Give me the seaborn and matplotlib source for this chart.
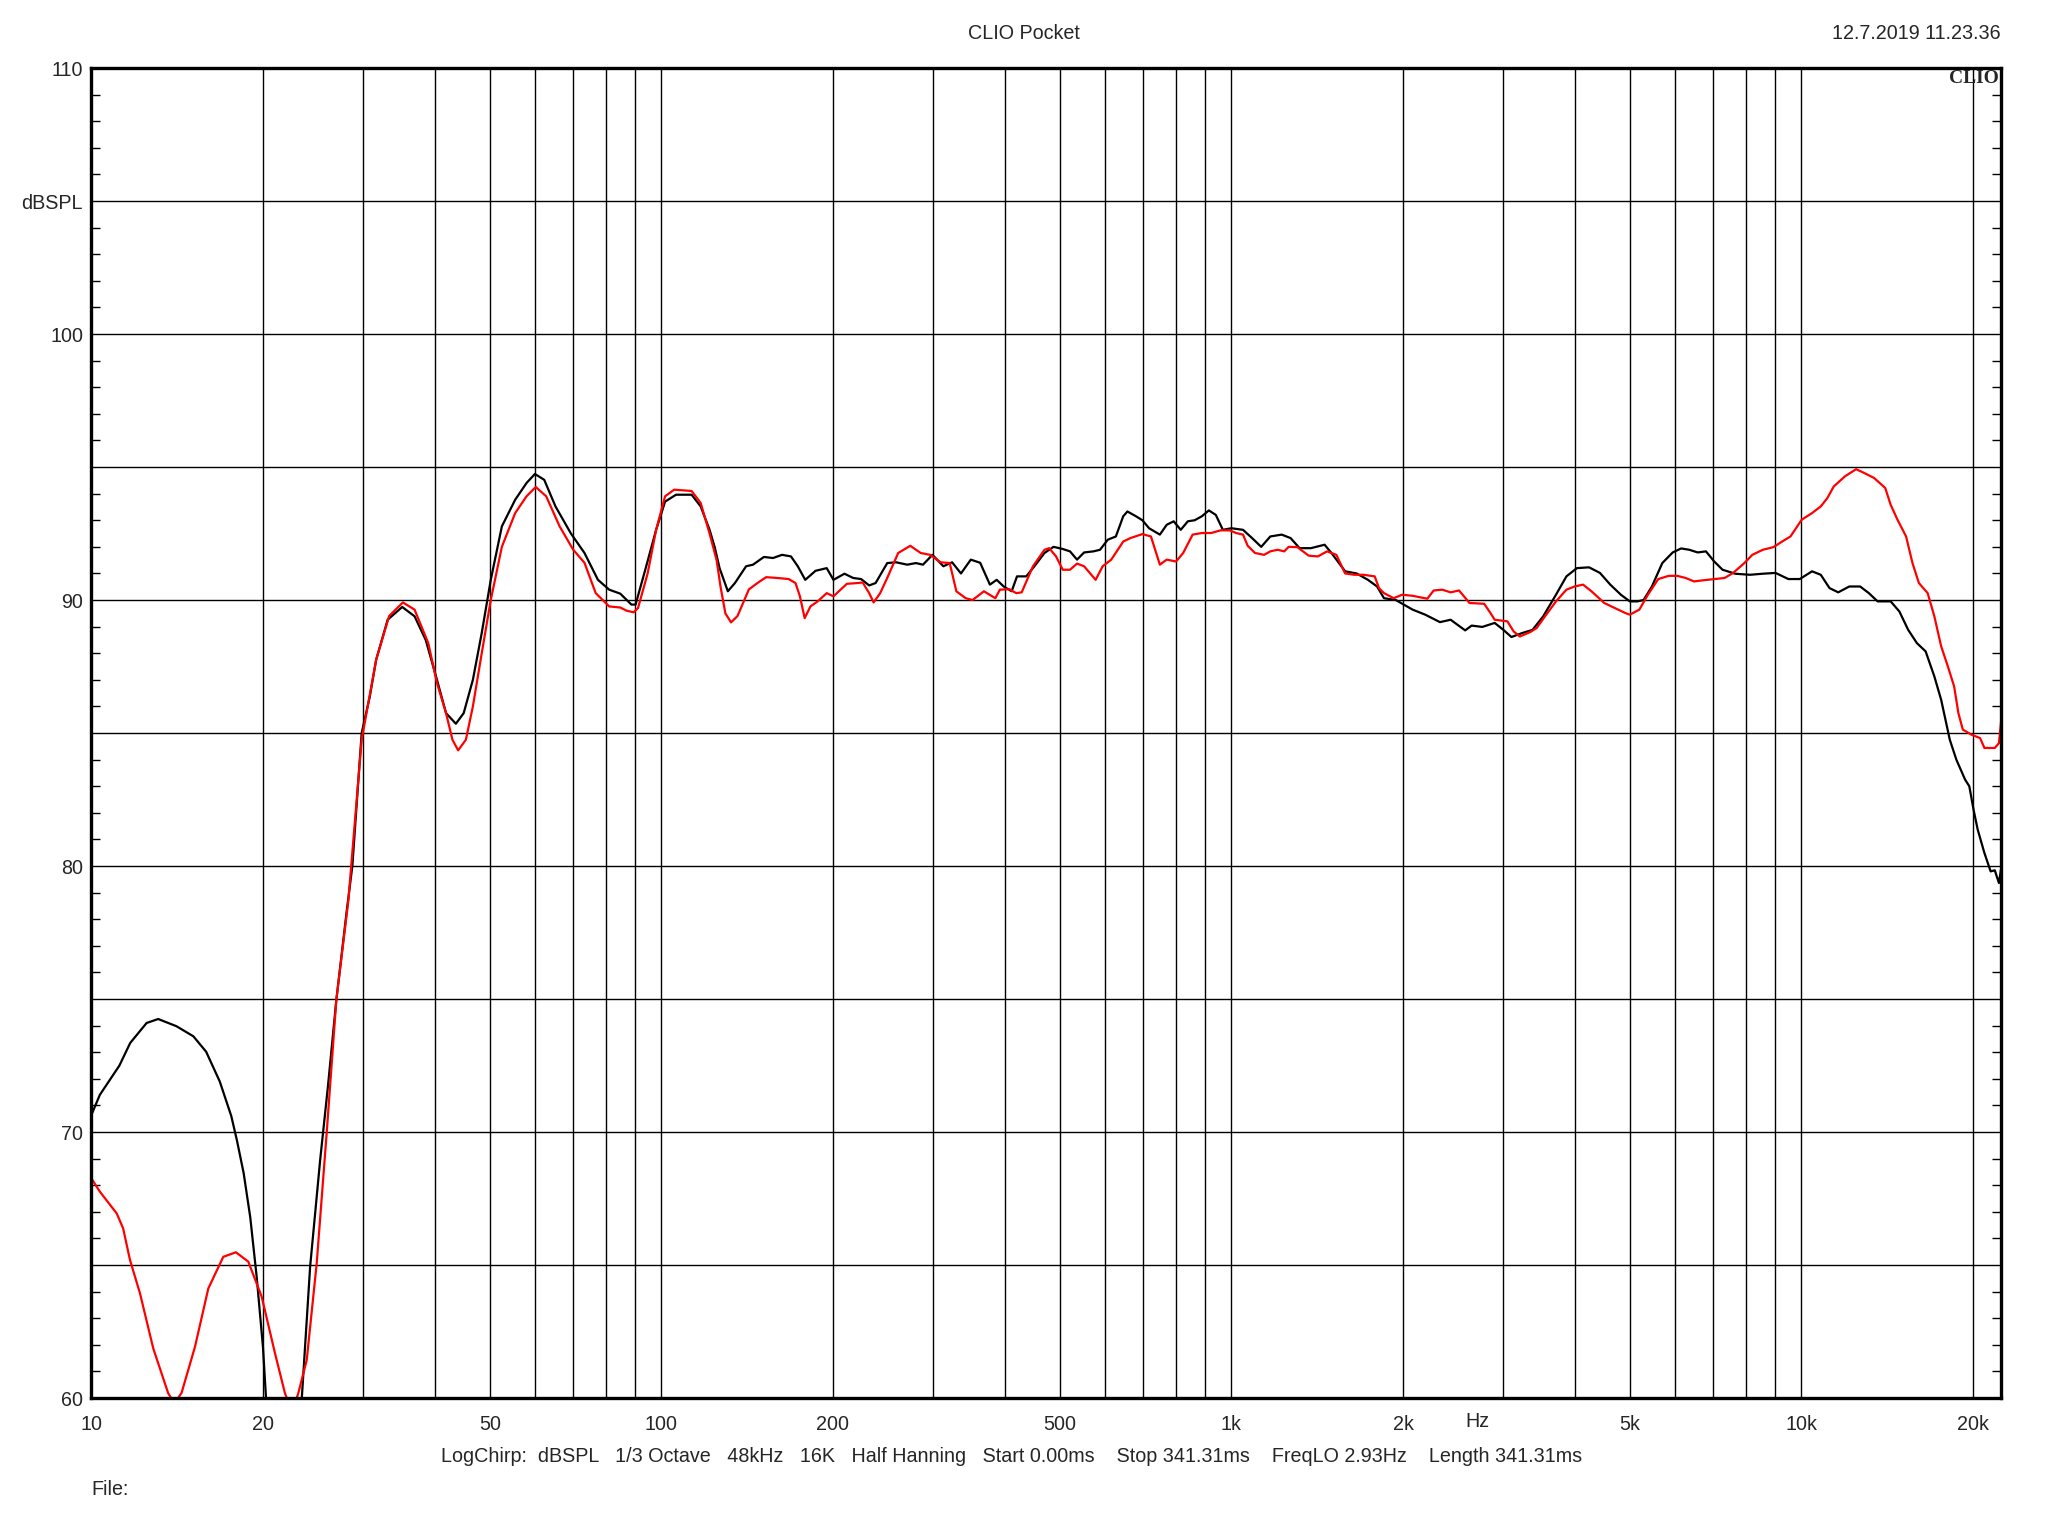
import matplotlib
matplotlib.use("Agg")
import matplotlib.pyplot as plt
import matplotlib.ticker as mticker
import numpy as np
import seaborn as sns

# values (Hz, dB SPL)
freq_black = [10, 10.35, 11.2, 11.7, 12.5, 13.1, 14.1, 15.1, 15.9, 16.8, 17.6, 18.0, 18.5, 19.0, 19.5,
              20.0, 20.25, 21.8, 23.4, 24.2, 25.2, 26.0, 26.9, 28.05, 28.7, 29.8, 30.8, 31.6, 33.1,
              35.1, 36.9, 38.6, 40.4, 41.9, 43.6, 45.0, 46.7, 48.4, 50.2, 52.5, 55.4, 58.0, 60.0,
              62.3, 65.2, 69.4, 73.3, 77.4, 81.0, 84.7, 88.6, 90.1, 93.7, 97.9, 101.5, 106.1, 113,
              117.2, 121.5, 124, 126.5, 130.8, 134.6, 137, 140.8, 144.8, 151.3, 157, 162.8, 168.8,
              173.5, 178.8, 186.4, 195, 200.4, 209.5, 217, 224, 231.5, 237.6, 249, 258, 270, 279.6,
              287.7, 298.9, 312.4, 323.6, 335.4, 349, 362.5, 377, 387.5, 398.6, 411.6, 420.6, 436.5,
              451.2, 470, 487.5, 506, 521, 536, 551.6, 572.6, 588.2, 607, 627, 646, 657, 680, 698,
              717, 749, 770, 792, 815, 838.5, 862, 887.5, 913, 939, 966, 1000, 1048, 1087, 1128,
              1170, 1225, 1270, 1317, 1378, 1457, 1498, 1583, 1658, 1736, 1801, 1852, 1943, 2079,
              2188, 2322, 2424, 2571, 2639, 2755, 2896, 3000, 3099, 3237, 3375, 3524, 3710, 3870,
              4037, 4241, 4431, 4620, 4822, 5000, 5153, 5285, 5466, 5700, 5945, 6150, 6359, 6575,
              6800, 7030, 7270, 7652, 8122, 8554, 9007, 9484, 9933, 10437, 10812, 11200, 11602,
              12131, 12675, 13130, 13601, 14339, 14853, 15390, 15943, 16515, 17105, 17583, 18207,
              18696, 19368, 19700, 20040, 20380, 20940, 21474, 21837, 22206, 22400]
spl_black = [70.64, 71.4, 72.5, 73.35, 74.1, 74.25, 73.98, 73.6, 73.02, 71.9, 70.6, 69.7, 68.46, 66.8,
             64.56, 61.93, 60.0, 50.0, 60.0, 64.94, 68.95, 71.7, 74.96, 78.3, 80.0, 85.0, 86.38,
             87.76, 89.26, 89.74, 89.39, 88.5, 87.0, 85.75, 85.35, 85.75, 87.0, 88.76, 90.76, 92.77,
             93.77, 94.4, 94.74, 94.52, 93.52, 92.5, 91.77, 90.76, 90.39, 90.24, 89.83, 89.83, 91.14,
             92.64, 93.7, 93.96, 93.96, 93.52, 92.64, 92.0, 91.2, 90.33, 90.64, 90.89, 91.27, 91.33,
             91.62, 91.58, 91.7, 91.64, 91.27, 90.76, 91.1, 91.2, 90.76, 90.99, 90.83, 90.79, 90.55,
             90.64, 91.39, 91.42, 91.33, 91.39, 91.33, 91.7, 91.27, 91.42, 91.0, 91.52, 91.4, 90.58,
             90.76, 90.51, 90.33, 90.89, 90.89, 91.27, 91.77, 92.0, 91.92, 91.83, 91.52, 91.79, 91.83,
             91.89, 92.27, 92.39, 93.15, 93.33, 93.15, 93.0, 92.7, 92.46, 92.83, 92.96, 92.64, 92.96,
             93.0, 93.15, 93.37, 93.2, 92.64, 92.7, 92.64, 92.33, 92.0, 92.39, 92.46, 92.33, 91.95,
             91.95, 92.08, 91.77, 91.08, 91.0, 90.76, 90.51, 90.07, 90.0, 89.64, 89.45, 89.17, 89.26,
             88.86, 89.04, 88.99, 89.14, 88.88, 88.61, 88.76, 88.88, 89.39, 90.2, 90.89, 91.2, 91.23,
             91.02, 90.58, 90.2, 89.95, 89.95, 90.0, 90.51, 91.39, 91.79, 91.94, 91.89, 91.79, 91.83,
             91.45, 91.14, 90.99, 90.95, 90.99, 91.02, 90.79, 90.79, 91.08, 90.95, 90.45, 90.29, 90.51,
             90.51, 90.26, 89.95, 89.95, 89.57, 88.88, 88.38, 88.07, 87.13, 86.25, 84.75, 84.0, 83.25,
             83.0, 82.12, 81.37, 80.49, 79.8, 79.84, 79.36, 79.9]

freq_red = [10, 10.35, 11.08, 11.37, 11.69, 12.17, 12.84, 13.64, 14.0, 14.4, 15.2, 16.04, 17.04, 17.93,
            18.85, 19.9, 21.0, 21.86, 22.5, 23.07, 23.87, 24.85, 25.87, 26.9, 28.24, 29.8, 31.6, 33.3,
            35.2, 36.9, 39.0, 40.4, 41.9, 43.0, 44.0, 45.4, 46.7, 48.4, 50.2, 52.5, 55.4, 58.0, 60.2,
            62.8, 66.3, 70, 73.3, 76.7, 81, 84.7, 86.9, 89.4, 91, 94.6, 97.9, 101.5, 105.3, 113,
            117.2, 121.5, 125, 127, 129.5, 132.5, 136, 139.8, 142.4, 147.4, 152.7, 159.8, 167.2,
            171.9, 175, 178.4, 182.6, 188, 195, 200.4, 211.5, 221, 225.5, 231.5, 235.7, 242, 249,
            260.3, 273.3, 285, 296, 309, 320.5, 329.2, 341.8, 351.5, 368, 385.3, 392.5, 407.6, 419.3,
            428.6, 448.6, 470, 478.9, 492.5, 506, 521, 536, 551.6, 577.8, 594.5, 615.5, 646, 665, 698,
            722.5, 749, 770, 799.5, 823, 855, 887.5, 921.5, 957, 993, 1019, 1048, 1068, 1100, 1141,
            1170, 1205, 1238, 1260, 1305, 1366, 1418, 1471.5, 1528, 1583, 1643, 1705.5, 1784, 1815,
            1852, 1926, 1993, 2079, 2206, 2264, 2344, 2424, 2508, 2616, 2776, 2848, 2896, 3049, 3127,
            3206, 3346, 3432, 3550, 3710, 3870, 4000, 4139, 4282, 4508, 4706, 4912, 5000, 5195, 5378,
            5608, 5850, 6054, 6264, 6479, 6702, 7030, 7332, 7588, 7940, 8200, 8554, 8930, 9250, 9566,
            10010, 10437, 10812, 11100, 11394, 11920, 12470, 12820, 13410, 14030, 14339, 14740,
            15260, 15660, 16070, 16650, 17105, 17583, 18070, 18530, 18850, 19190, 19870, 20580,
            20940, 21474, 21837, 22206, 22400]
spl_red = [68.26, 67.76, 66.94, 66.38, 65.19, 63.94, 61.87, 60.18, 59.8, 60.2, 61.93, 64.12, 65.31,
           65.48, 65.13, 63.81, 61.68, 60.18, 59.5, 60.18, 61.43, 65.06, 69.95, 74.96, 78.7, 84.75,
           87.76, 89.4, 89.91, 89.64, 88.38, 86.88, 85.75, 84.75, 84.35, 84.75, 86.0, 88.0, 90.0, 92.0,
           93.27, 93.9, 94.25, 93.9, 92.77, 91.9, 91.4, 90.26, 89.76, 89.72, 89.6, 89.54, 89.7, 91.0,
           92.64, 93.9, 94.15, 94.1, 93.65, 92.5, 91.5, 90.5, 89.5, 89.16, 89.4, 90.0, 90.4, 90.64,
           90.86, 90.83, 90.79, 90.64, 90.14, 89.32, 89.76, 89.95, 90.26, 90.14, 90.61, 90.64, 90.66,
           90.26, 89.91, 90.26, 90.83, 91.77, 92.04, 91.77, 91.7, 91.42, 91.39, 90.33, 90.07, 90.0,
           90.33, 90.07, 90.39, 90.41, 90.26, 90.29, 91.27, 91.89, 91.95, 91.64, 91.14, 91.14, 91.37,
           91.27, 90.76, 91.27, 91.52, 92.2, 92.33, 92.48, 92.39, 91.33, 91.52, 91.45, 91.77, 92.46,
           92.52, 92.52, 92.62, 92.62, 92.52, 92.46, 92.04, 91.77, 91.7, 91.83, 91.89, 91.83, 92.0,
           91.99, 91.67, 91.64, 91.83, 91.7, 91.0, 90.95, 90.95, 90.89, 90.45, 90.26, 90.07, 90.2,
           90.16, 90.05, 90.36, 90.39, 90.29, 90.36, 89.89, 89.86, 89.51, 89.26, 89.2, 88.82, 88.63,
           88.8, 88.95, 89.39, 89.95, 90.39, 90.51, 90.58, 90.33, 89.89, 89.7, 89.51, 89.45, 89.64,
           90.2, 90.79, 90.91, 90.91, 90.83, 90.7, 90.74, 90.79, 90.83, 91.02, 91.39, 91.7, 91.89,
           91.99, 92.2, 92.39, 93.02, 93.27, 93.52, 93.83, 94.27, 94.65, 94.92, 94.8, 94.59, 94.21,
           93.58, 93.02, 92.39, 91.39, 90.64, 90.26, 89.39, 88.26, 87.5, 86.75, 85.75, 85.13, 84.94,
           84.81, 84.44, 84.44, 84.44, 84.62, 85.44]

x_labels = {10: "10", 20: "20", 50: "50", 100: "100", 200: "200", 500: "500",
            1000: "1k", 2000: "2k", 5000: "5k", 10000: "10k", 20000: "20k"}
y_labels = {60: "60", 70: "70", 80: "80", 90: "90", 100: "100", 105: "dBSPL", 110: "110"}

sns.set_style("white")
plt.rcParams["font.family"] = ["Liberation Sans", "DejaVu Sans"]
plt.rcParams["font.size"] = 14

fig = plt.figure(figsize=(20.48, 15.36), dpi=100)
ax = fig.add_axes([0.0446, 0.0898, 0.9325, 0.8659])

sns.lineplot(x=freq_black, y=spl_black, ax=ax, color="black", lw=1.6,
             estimator=None, sort=False)
sns.lineplot(x=freq_red, y=spl_red, ax=ax, color="#ff0000", lw=1.6,
             estimator=None, sort=False)

ax.set_xscale("log")
ax.set_xlim(10, 22400)
ax.set_ylim(60, 110)

ax.xaxis.set_major_locator(mticker.LogLocator(base=10, subs=np.arange(1, 10), numticks=50))
ax.xaxis.set_minor_locator(mticker.NullLocator())
ax.xaxis.set_major_formatter(mticker.FuncFormatter(
    lambda v, p: x_labels.get(int(round(v)), "")))
ax.yaxis.set_major_locator(mticker.MultipleLocator(5))
ax.yaxis.set_minor_locator(mticker.MultipleLocator(1))
ax.yaxis.set_major_formatter(mticker.FuncFormatter(
    lambda v, p: y_labels.get(int(round(v)), "")))

ax.grid(True, which="major", color="black", lw=1.0)
ax.tick_params(axis="x", which="major", length=0, pad=12, labelsize=14.2)
ax.tick_params(axis="y", which="major", length=0, pad=6, labelsize=14.2)
ax.tick_params(axis="y", which="minor", direction="in", length=6.5, width=1.0,
               left=True, right=True, color="black")
for side in ["left", "right", "top", "bottom"]:
    ax.spines[side].set_color("black")
    ax.spines[side].set_linewidth(2.4)
ax.set_xlabel("")
ax.set_ylabel("")

# "Hz" sits on the same baseline as the frequency labels
ax.text(2700, -0.0175, "Hz", transform=ax.get_xaxis_transform(),
        ha="center", va="center", fontsize=14.2)

fig.text(0.5, 0.978, "CLIO Pocket", ha="center", va="center", fontsize=14.2)
fig.text(0.977, 0.978, "12.7.2019 11.23.36", ha="right", va="center", fontsize=14.2)
fig.text(0.976, 0.949, "CLIO", ha="right", va="center", fontsize=14,
         family="Liberation Serif", weight="bold")
fig.text(0.4937, 0.052,
         "LogChirp:  dBSPL   1/3 Octave   48kHz   16K   Half Hanning   Start 0.00ms    "
         "Stop 341.31ms    FreqLO 2.93Hz    Length 341.31ms",
         ha="center", va="center", fontsize=14.2)
fig.text(0.0445, 0.030, "File:", ha="left", va="center", fontsize=14.2)

fig.savefig("out.png", dpi=100, facecolor="white")
